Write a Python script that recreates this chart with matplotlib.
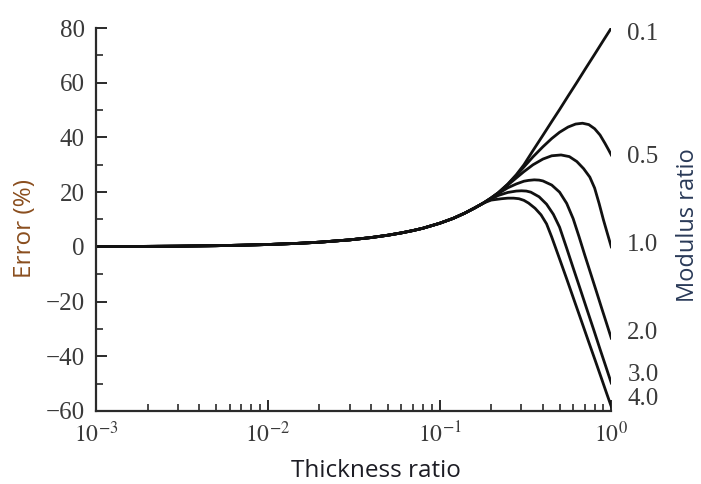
import matplotlib
matplotlib.use('Agg')
import matplotlib.pyplot as plt
import numpy as np
from matplotlib.ticker import LogLocator, MultipleLocator, FixedLocator

# shared part of all curves (they coincide at small thickness ratio)
thick_base = [0.001, 0.002, 0.003, 0.005, 0.007, 0.01, 0.015, 0.02, 0.03, 0.04,
              0.05, 0.06, 0.07, 0.08, 0.1, 0.12, 0.14, 0.16, 0.18]
err_base = [0.08, 0.17, 0.25, 0.42, 0.6, 0.85, 1.28, 1.7, 2.55, 3.4,
            4.25, 5.1, 5.95, 6.8, 8.6, 10.4, 12.3, 14.2, 16.0]

# modulus ratio 0.1 ... 4.0 -> (thickness ratio, error %)
thick_01 = [0.2, 0.22, 0.25, 0.28, 0.31, 0.35, 0.4, 0.45, 0.5, 0.56, 0.63, 0.71, 0.8, 0.9, 1.0]
err_01 = [17.9, 19.8, 23.0, 26.4, 30.0, 35.2, 40.8, 45.8, 50.2, 55.1, 60.1, 65.3, 70.4, 75.5, 80.0]

thick_05 = [0.2, 0.22, 0.25, 0.28, 0.31, 0.35, 0.4, 0.45, 0.5, 0.56, 0.62, 0.68, 0.74, 0.8,
            0.86, 0.92, 0.96, 1.0]
err_05 = [17.9, 19.8, 22.9, 26.1, 29.2, 32.9, 36.6, 39.6, 41.9, 43.8, 44.9, 45.2, 44.7, 43.2,
          40.9, 37.8, 35.7, 33.6]

thick_10 = [0.2, 0.22, 0.25, 0.28, 0.31, 0.35, 0.4, 0.45, 0.51, 0.57, 0.63, 0.69, 0.75, 0.8,
            0.85, 0.9, 0.95, 1.0]
err_10 = [17.9, 19.7, 22.6, 25.2, 27.5, 30.0, 32.1, 33.3, 33.6, 33.0, 31.2, 28.6, 25.5, 21.5,
          15.8, 9.9, 4.8, 0.0]

thick_20 = [0.2, 0.22, 0.25, 0.28, 0.31, 0.33, 0.356, 0.38, 0.4, 0.45, 0.5, 0.55, 0.6, 0.65,
            0.7, 0.76, 0.82, 0.88, 0.94, 1.0]
err_20 = [17.7, 19.5, 21.6, 23.0, 24.0, 24.3, 24.5, 24.4, 24.1, 22.6, 20.0, 15.9, 10.3, 3.6,
          -2.9, -9.9, -16.4, -22.5, -28.1, -33.4]

thick_30 = [0.2, 0.22, 0.25, 0.28, 0.3, 0.32, 0.34, 0.38, 0.42, 0.46, 0.5, 0.55, 0.6, 0.66,
            0.72, 0.79, 0.86, 0.93, 1.0]
err_30 = [17.5, 18.8, 19.9, 20.4, 20.5, 20.4, 20.0, 18.3, 15.6, 11.9, 7.2, -0.5, -7.7, -15.5,
          -22.7, -30.3, -37.4, -43.8, -49.8]

thick_40 = [0.2, 0.23, 0.25, 0.27, 0.29, 0.31, 0.33, 0.36, 0.39, 0.42, 0.45, 0.5, 0.55, 0.61,
            0.67, 0.74, 0.81, 0.88, 0.94, 1.0]
err_40 = [17.1, 17.6, 17.8, 17.8, 17.6, 17.0, 16.0, 14.1, 11.7, 8.4, 3.6, -4.4, -11.7, -19.8,
          -27.1, -34.9, -41.9, -48.4, -53.6, -58.4]

ratio_labels = ['0.1', '0.5', '1.0', '2.0', '3.0', '4.0']
label_err = [78, 33, 0.5, -31.5, -47, -55.5]

curves = [(thick_01, err_01), (thick_05, err_05), (thick_10, err_10),
          (thick_20, err_20), (thick_30, err_30), (thick_40, err_40)]

plt.rcParams['mathtext.fontset'] = 'stix'
serif = 'Liberation Serif'
sans = 'Open Sans'
ink = '#2a2a2a'

fig = plt.figure(figsize=(7.01, 4.84), dpi=100)
ax = fig.add_axes([0.137, 0.151, 0.735, 0.791])

for tx, ey in curves:
	x = np.concatenate([thick_base, tx])
	y = np.concatenate([err_base, ey])
	ax.plot(x, y, color='#111111', lw=2.0, solid_joinstyle='round')

ax.set_xscale('log')
ax.set_xlim(1e-3, 1.0)
ax.set_ylim(-60, 80)

ax.xaxis.set_major_locator(FixedLocator([1e-3, 1e-2, 1e-1, 1.0]))
ax.xaxis.set_minor_locator(LogLocator(base=10, subs=np.arange(2, 10)))
ax.set_xticklabels([r'$10^{-3}$', r'$10^{-2}$', r'$10^{-1}$', r'$10^{0}$'])
ax.yaxis.set_major_locator(MultipleLocator(20))
ax.yaxis.set_minor_locator(MultipleLocator(10))

for sp in ['top', 'right']:
	ax.spines[sp].set_visible(False)
for sp in ['left', 'bottom']:
	ax.spines[sp].set_linewidth(1.6)
	ax.spines[sp].set_color(ink)

ax.tick_params(which='major', direction='in', length=8, width=1.4, colors=ink,
               labelsize=18, pad=8)
ax.tick_params(which='minor', direction='in', length=5, width=1.2, colors=ink)
for lab in ax.get_yticklabels():
	lab.set_fontfamily(serif)
	lab.set_color('#3a3a3a')
for lab in ax.get_xticklabels():
	lab.set_fontsize(17)
	lab.set_color('#3a3a3a')

for lab, ev in zip(ratio_labels, label_err):
	ax.text(1.24, ev, lab, fontsize=18, family=serif, color='#3a3a3a',
	        va='center', ha='left', clip_on=False)

fig.text(0.0357, 0.527, 'Error (%)', rotation=90, fontsize=17.5, family=sans,
         color='#8a4e1e', ha='center', va='center')
fig.text(0.536, 0.014, 'Thickness ratio', fontsize=17.5, family=sans,
         color='#1c1c24', ha='center', va='baseline')
fig.text(0.981, 0.535, 'Modulus ratio', rotation=90, fontsize=17, family=sans,
         color='#2a3a58', ha='center', va='center')

plt.savefig('out.png', dpi=100)
